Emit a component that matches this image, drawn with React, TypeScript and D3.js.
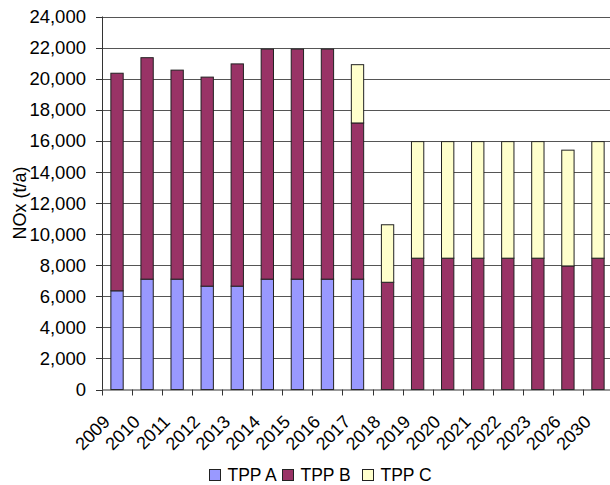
import React from "react";
import * as d3 from "d3";

const years = ["2009","2010","2011","2012","2013","2014","2015","2016","2017","2018","2019","2020","2021","2022","2023","2026","2030"];
const tppA = [6350,7100,7100,6650,6650,7100,7100,7100,7100,0,0,0,0,0,0,0,0];
const tppB = [14000,14250,13450,13450,14300,14800,14800,14800,10050,6900,8450,8450,8450,8450,8450,7950,8450];
const tppC = [0,0,0,0,0,0,0,0,3750,3700,7500,7500,7500,7500,7500,7450,7500];
const seriesNames = ["TPP A","TPP B","TPP C"];
const seriesColors = ["#9999FF","#993366","#FFFFCC"];
const yTicks = [0,2000,4000,6000,8000,10000,12000,14000,16000,18000,20000,22000,24000];

const W = 610, H = 485;
const left = 102, right = 613, top = 16.5, bottom = 389.5;
const FONT = "'Liberation Sans', Arial, sans-serif";

export default function App() {
  const rows = years.map((y, i) => ({ year: y, a: tppA[i], b: tppB[i], c: tppC[i] }));
  const stack = d3.stack<any>().keys(["a","b","c"])(rows);
  const x = d3.scaleBand().domain(years).range([left, right]).paddingInner(0).paddingOuter(0);
  const y = d3.scaleLinear().domain([0, 24000]).range([bottom, top]);
  const bw = x.bandwidth() * 0.41;
  const fmt = d3.format(",");
  const legendX = [209.5, 282.5, 362.5];
  return (
    <svg width={W} height={H} style={{ position: "absolute", left: 0, top: 0, background: "#fff" }} fontFamily={FONT}>
      {yTicks.map((t) => (
        <g key={t}>
          {t > 0 && <line x1={left} x2={right} y1={Math.round(y(t)) + 0.5} y2={Math.round(y(t)) + 0.5} stroke="#555" strokeWidth={1} />}
          <line x1={left - 6} x2={left} y1={Math.round(y(t)) + 0.5} y2={Math.round(y(t)) + 0.5} stroke="#333" />
          <text x={86} y={y(t)} dy="0.36em" textAnchor="end" fontSize={18.5} fill="#000">{fmt(t)}</text>
        </g>
      ))}
      {stack.map((s, si) => (
        <g key={si}>
          {s.map((d, i) => {
            const v = d[1] - d[0];
            if (v <= 0) return null;
            const cx = (x(years[i]) as number) + x.bandwidth() / 2;
            return (
              <rect key={i} x={cx - bw / 2} y={y(d[1])} width={bw} height={y(d[0]) - y(d[1])}
                fill={seriesColors[si]} stroke="#222" strokeWidth={1} />
            );
          })}
        </g>
      ))}
      <line x1={left + 0.5} x2={left + 0.5} y1={top} y2={bottom} stroke="#333" />
      <line x1={left} x2={right} y1={bottom + 0.5} y2={bottom + 0.5} stroke="#333" />
      {years.map((yr, i) => {
        const x0 = x(yr) as number;
        const cx = x0 + x.bandwidth() / 2;
        return (
          <g key={yr}>
            <line x1={Math.round(x0) + 0.5} x2={Math.round(x0) + 0.5} y1={bottom} y2={bottom + 6} stroke="#333" />
            <text transform={`translate(${cx - 6},${423}) rotate(-45)`} textAnchor="end" fontSize={18} fill="#000">{yr}</text>
          </g>
        );
      })}
      <text transform={`translate(${26},${(top + bottom) / 2}) rotate(-90)`} textAnchor="middle" fontSize={18} fill="#000">NOx (t/a)</text>
      {seriesNames.map((n, i) => (
        <g key={n}>
          <rect x={legendX[i]} y={469.5} width={11} height={11} fill={seriesColors[i]} stroke="#222" />
          <text x={legendX[i] + 18} y={481} fontSize={17.5} fill="#000">{n}</text>
        </g>
      ))}
    </svg>
  );
}
